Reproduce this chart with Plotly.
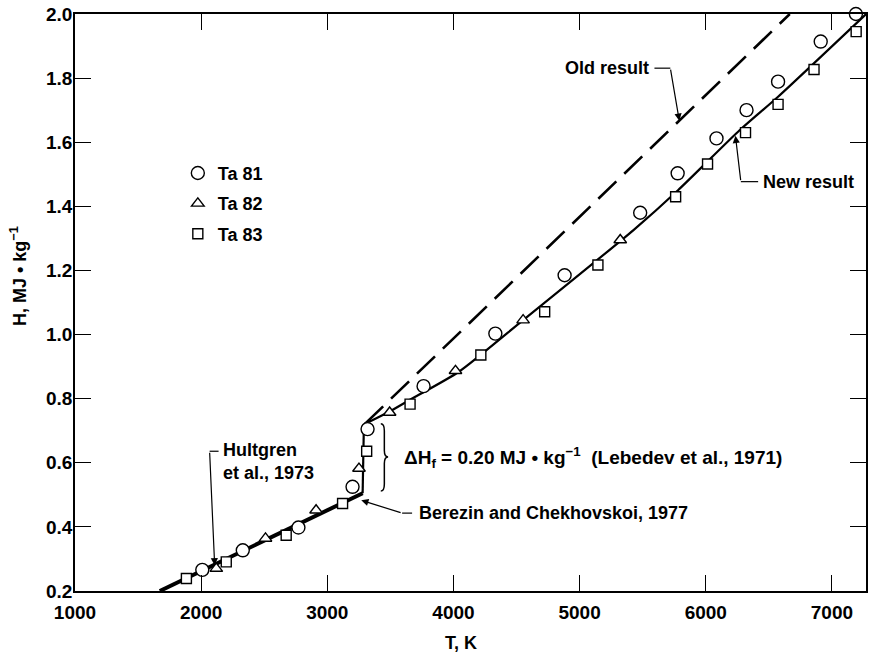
import plotly.graph_objects as go

# ---------------- data ----------------
ta81_T = [2009, 2330, 2771, 3200, 3319, 3763, 4332, 4881, 5480, 5777, 6085, 6323, 6573, 6911, 7190]
ta81_H = [0.266, 0.327, 0.398, 0.525, 0.705, 0.839, 1.003, 1.185, 1.380, 1.503, 1.612, 1.700, 1.789, 1.914, 2.000]

ta82_T = [2120, 2510, 2911, 3251, 3494, 4016, 4552, 5322]
ta82_H = [0.270, 0.364, 0.452, 0.582, 0.757, 0.887, 1.045, 1.295]

ta83_T = [1883, 2199, 2674, 3121, 3312, 3656, 4217, 4723, 5145, 5761, 6014, 6315, 6573, 6858, 7192]
ta83_H = [0.239, 0.291, 0.374, 0.473, 0.636, 0.783, 0.936, 1.071, 1.217, 1.430, 1.532, 1.630, 1.718, 1.827, 1.945]

# solid-state reference lines (Hultgren et al. / Berezin and Chekhovskoi)
solid_T = [1672, 3280]
solid_H = [0.200, 0.505]

# heat of fusion step
fusion_T = [3280, 3290]
fusion_H = [0.505, 0.720]

# new result (liquid)
new_T = [3290, 3494, 3648, 4043, 4552, 5427, 5782, 6270, 6573, 7271]
new_H = [0.720, 0.760, 0.795, 0.884, 1.045, 1.326, 1.451, 1.638, 1.742, 2.000]

# old result (liquid)
old_T = [3300, 6666]
old_H = [0.722, 2.000]

x_ticks = [1000, 2000, 3000, 4000, 5000, 6000, 7000]
y_ticks = [0.2, 0.4, 0.6, 0.8, 1.0, 1.2, 1.4, 1.6, 1.8, 2.0]

FONT = "Liberation Sans"
BLACK = "black"

fig = go.Figure()

# lines
fig.add_trace(go.Scatter(x=solid_T, y=solid_H, mode="lines",
                         line=dict(color=BLACK, width=4), showlegend=False, hoverinfo="skip"))
fig.add_trace(go.Scatter(x=fusion_T, y=fusion_H, mode="lines",
                         line=dict(color=BLACK, width=2.2), showlegend=False, hoverinfo="skip"))
fig.add_trace(go.Scatter(x=new_T, y=new_H, mode="lines", name="New result",
                         line=dict(color=BLACK, width=2.2, shape="spline", smoothing=0.6),
                         showlegend=False))
fig.add_trace(go.Scatter(x=old_T, y=old_H, mode="lines", name="Old result",
                         line=dict(color=BLACK, width=2.6, dash="25px,11px"),
                         showlegend=False))

# data points
mk_line = dict(color=BLACK, width=1.4)
fig.add_trace(go.Scatter(x=ta81_T, y=ta81_H, mode="markers", name="Ta 81", legendgroup="a",
                         cliponaxis=False,
                         marker=dict(symbol="circle", size=13, color="white", line=mk_line)))
fig.add_trace(go.Scatter(x=ta82_T, y=ta82_H, mode="markers", name="Ta 82", legendgroup="b",
                         cliponaxis=False,
                         marker=dict(symbol="triangle-up", size=11, color="white", line=mk_line)))
fig.add_trace(go.Scatter(x=ta83_T, y=ta83_H, mode="markers", name="Ta 83", legendgroup="c",
                         cliponaxis=False,
                         marker=dict(symbol="square", size=10, color="white", line=mk_line)))

# brace for heat of fusion
fig.add_shape(type="path", xref="x", yref="y",
              path=("M 3424 0.722 Q 3452 0.722 3452 0.700 L 3452 0.638 "
                    "Q 3452 0.618 3482 0.618 Q 3452 0.618 3452 0.598 "
                    "L 3452 0.534 Q 3452 0.512 3424 0.512"),
              line=dict(color=BLACK, width=1.5))

# leader segments (horizontal parts)
for x0, x1, yv in [(5593, 5719, 1.831), (6415, 6278, 1.477), (2138, 2067, 0.636), (3672, 3593, 0.443)]:
    fig.add_shape(type="line", xref="x", yref="y", x0=x0, x1=x1, y0=yv, y1=yv,
                  line=dict(color=BLACK, width=1.2))

# arrows
for tip, tail in [((5790, 1.667), (5719, 1.831)),
                  ((6235, 1.620), (6278, 1.477)),
                  ((2107, 0.280), (2067, 0.636)),
                  ((3269, 0.483), (3593, 0.443))]:
    fig.add_annotation(x=tip[0], y=tip[1], ax=tail[0], ay=tail[1], xref="x", yref="y",
                       axref="x", ayref="y", text="", showarrow=True,
                       arrowhead=2, arrowsize=1.2, arrowwidth=1.2, arrowcolor=BLACK)

tf = dict(family=FONT, size=18, color=BLACK, weight="bold")
fig.add_annotation(x=5569, y=1.831, xref="x", yref="y", text="Old result",
                   showarrow=False, xanchor="right", yanchor="middle", font=tf)
fig.add_annotation(x=6439, y=1.477, xref="x", yref="y", text="New result",
                   showarrow=False, xanchor="left", yanchor="middle", font=tf)
fig.add_annotation(x=2160, y=0.603, xref="x", yref="y", text="Hultgren<br>et al., 1973",
                   showarrow=False, xanchor="left", yanchor="middle", align="left", font=tf)
fig.add_annotation(x=3711, y=0.443, xref="x", yref="y", text="Berezin and Chekhovskoi, 1977",
                   showarrow=False, xanchor="left", yanchor="middle", font=tf)
fig.add_annotation(x=3593, y=0.618, xref="x", yref="y",
                   text="ΔH<sub>f</sub> = 0.20 MJ • kg<sup>−1</sup>\u00a0\u00a0(Lebedev et al., 1971)",
                   showarrow=False, xanchor="left", yanchor="middle",
                   font=dict(family=FONT, size=19, color=BLACK, weight="bold"))

# axis titles (placed relative to the plot area)
fig.add_annotation(x=0.488, y=0, xref="paper", yref="paper", yshift=-52, text="T, K",
                   showarrow=False, xanchor="center", yanchor="middle", font=tf)
fig.add_annotation(x=0, y=0.546, xref="paper", yref="paper", xshift=-56, textangle=-90,
                   text="H, MJ • kg<sup>−1</sup>",
                   showarrow=False, xanchor="center", yanchor="middle", font=tf)

tickfont = dict(family=FONT, size=19, color=BLACK, weight="bold")
axis_common = dict(showline=True, linecolor=BLACK, linewidth=1.5, mirror="ticks",
                   ticks="inside", ticklen=16, tickwidth=1.2, tickcolor=BLACK,
                   showgrid=False, zeroline=False, tickfont=tickfont)

fig.update_xaxes(range=[1000, 7270], tickvals=x_ticks, ticktext=[str(v) for v in x_ticks],
                 ticklabelstandoff=3, **axis_common)
fig.update_yaxes(range=[0.2, 2.0], tickvals=y_ticks, ticktext=[f"{v:.1f}" for v in y_ticks],
                 ticklabelstandoff=-3, **axis_common)

fig.update_layout(
    width=870, height=656,
    margin=dict(l=75, r=2, t=14, b=65),
    paper_bgcolor="white", plot_bgcolor="white",
    font=dict(family=FONT, size=18, color=BLACK),
    legend=dict(x=0.13, y=0.756, xanchor="left", yanchor="top",
                bgcolor="rgba(0,0,0,0)", tracegroupgap=4,
                font=dict(family=FONT, size=18, color=BLACK, weight="bold")),
)

fig.write_html("out.html", config={"displayModeBar": False},
               post_script="document.body.style.margin='0';document.body.style.overflow='hidden';")
